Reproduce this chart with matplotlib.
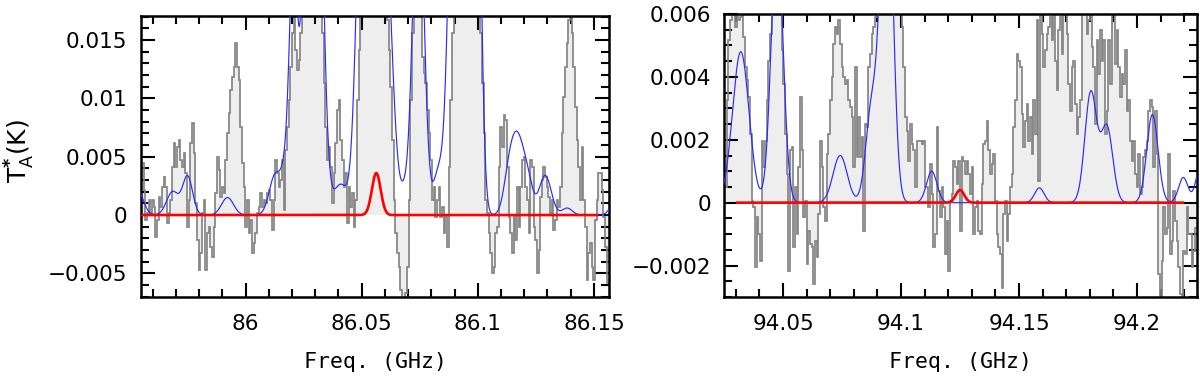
import numpy as np
import matplotlib
matplotlib.use("Agg")
import matplotlib.pyplot as plt
from matplotlib.ticker import MultipleLocator, FuncFormatter

# ---------------- data: left panel (86 GHz) ----------------
left_f0 = 85.9555      # GHz, first channel edge
left_df = 0.000717     # GHz, channel width
left_tmk = [  # observed T_A* in mK
    4.43, 2.14, -0.43, 0.14, 1.29, 0.14, 1.29, 0.71, -1.86, -0.43,
    1.57, 0.71, 2.43, 3.29, 2.43, -0.71, 0.14, 1.29, 4.15, 6.15,
    4.15, 5.86, 6.43, 4.72, 4.15, 5.29, 3.57, -1.00, 1.29, 6.15,
    7.86, 5.29, 1.00, -2.14, -4.72, -3.29, 0.14, 1.29, -4.72, -1.57,
    -1.00, -2.72, -3.57, -1.00, 1.86, 5.00, 3.86, 1.57, 2.43, 1.86,
    4.72, 7.00, 8.72, 10.72, 11.86, 12.72, 14.72, 12.72, 11.58, 7.58,
    4.43, 2.43, -1.00, 1.29, -1.57, -0.43, -3.29, -2.43, -1.57, 0.14,
    0.71, 1.86, 0.71, 1.29, 1.00, 1.86, 2.14, 1.29, -1.29, 1.29,
    4.72, 3.57, 2.43, 3.00, 4.72, 0.43, 5.57, 7.58, 9.86, 12.72,
    15.58, 20.0, 14.15, 12.44, 13.29, 15.58, 25, 25, 25, 25,
    25, 25, 25, 25, 25, 25, 25, 25, 15.58, 11.29,
    7.58, 4.72, 5.86, 4.15, 1.00, 3.57, 6.15, 9.01, 9.86, 6.43,
    4.72, 2.43, 3.57, -0.71, 2.43, 0.71, 1.86, -1.00, 1.29, 9.86,
    14.15,
    25, 25, 25, 25, 25, 25, 25, 25, 25, 25, 25, 25, 25, 25, 25, 25,
    16.72, 14.15, 11.01, 6.43, 1.29, -1.57, -3.29, -4.43, -6.43, -7.5,
    -7.8, -6.72, -4.43, 1.29, 9.86, 15.58, 20.0, 25, 25, 25,
    25, 13.58, 12.15, 11.29, 9.01, 7.00, 4.72, 1.29, 2.43, -0.14,
    1.29, 2.43, -0.14, 0.71, -1.57, -0.14, -2.72, 4.15, 9.86, 15.58,
    25, 25, 25, 25, 25, 25, 25, 25, 25, 25, 25, 25, 25, 25, 25, 25,
    15.58, 11.29, 7.00, 1.29, 0.14, -1.57, -3.29, -5.00, -4.43, -1.57,
    -1.00, 4.15, 7.58, 5.86, 8.58, 8.15, 4.15, -0.14, -1.57, -3.29,
    -0.14, -2.14, 2.43, -1.00, 2.43, 4.72, 5.00, 2.43, 1.29, -1.57,
    4.72, 4.15, -1.00, -2.14, -5.00, -3.00, 1.57, 3.00, 4.15, 3.29,
    2.43, 1.57, 0.14, 1.29, -1.29, -0.43, 1.29, 0.71, 2.43, 7.00,
    10.15, 12.72, 14.72, 16.72, 18.0, 15.58, 12.72, 9.29, 6.43, 4.15,
    1.29, 5.86, 1.29, -1.00, -5.57, -3.29, -2.43, -4.43, -5.57, -0.43,
    1.29, 3.57, 3.57, 2.14, -0.14, -2.72, -5.86, -5.86,
]
# model lines (blue): centre GHz, peak mK, width (sigma) GHz
left_model_f = [85.95312, 85.96860, 85.97505, 85.99226, 86.01290, 86.01720,
                86.02065, 86.02667, 86.03054, 86.04086, 86.05032, 86.05548,
                86.06022, 86.06839, 86.07441, 86.08301, 86.09032, 86.09505,
                86.09935, 86.11312, 86.11699, 86.12172, 86.12903, 86.13849,
                86.16129]
left_model_t = [2.4, 2.0, 3.3, 1.5, 3.5, 3.0,
                22.0, 30.0, 40.0, 2.6, 30.0, 40.0,
                22.0, 1.5, 30.0, 3.5, 40.0, 40.0,
                35.0, 2.0, 6.6, 2.0, 3.4, 0.6,
                3.0]
left_model_s = [0.00258, 0.00258, 0.00215, 0.00258, 0.00258, 0.00172,
                0.00172, 0.00215, 0.00258, 0.00301, 0.00258, 0.00258,
                0.00301, 0.00172, 0.00237, 0.00215, 0.00258, 0.00258,
                0.00194, 0.00215, 0.00301, 0.00215, 0.00258, 0.00215,
                0.00258]
# red line: centre GHz, peak mK, sigma GHz, drawn range
left_red = (86.0563, 3.6, 0.0019)
left_red_range = (85.9557, 86.1514)

# ---------------- data: right panel (94 GHz) ----------------
right_f0 = 94.02542
right_df = 0.000706
right_tmk = [
    0.49, 3.25, 5.16, 5.80, 8.0, 5.96, 5.58, 5.96, 5.80, 5.90,
    5.96, 5.27, 4.31, 3.89, 3.35, 2.19, 0.06, -0.15, -2.06, -0.47,
    -1.00, -1.85, 1.97, 1.13, 1.97, 3.25, 4.52, 5.37, 8.0, 10,
    10, 10, 10, 10, 4.84, 3.78, 2.19, 0.91, -2.17, 1.66,
    1.76, -1.42, 0.49, -1.00, 1.13, 3.35, 1.66, -0.47, 0.06, -1.95,
    -0.89, -1.32, -1.42, -2.59, -1.21, -1.74, -0.36, 1.97, 1.13, -0.15,
    -0.57, 1.55, 2.19, 3.25, 3.99, 5.05, 5.58, 5.37, 5.80, 5.05,
    4.31, 3.99, 3.78, 3.89, 3.25, 3.04, 2.72, 1.13, 4.31, 1.44,
    2.72, 1.44, 2.08, -0.89, 2.51, 2.40, 4.31, 4.73, 5.37, 5.58,
    5.90, 10, 10, 10, 10, 10, 10, 10, 10, 10,
    10, 10, 10, 10, 10, 10, 5.58, 4.31, 2.72, 2.29,
    1.34, 2.51, 1.87, 1.66, 0.49, 1.97, 1.97, 1.97, 1.87, 1.97,
    0.49, 0.49, -0.15, 1.23, 0.28, -1.42, -1.00, 2.40, 0.38, -0.47,
    0.49, -0.15, -1.63, -0.57, -2.17, 0.06, 0.28, 1.34, 1.13, 0.59,
    1.34, -0.89, 1.44, 1.34, 0.91, 1.34, 0.91,
    0.28, 1.13, -1.00, -0.15, 0.06, -0.89, -1.00, 0.59, 1.87, 1.97,
    2.61, 1.66, 0.91, 1.23, 1.55, 0.06, -1.00, -1.42, -1.63, -2.70,
    -0.36, 0.06, -1.21, -0.36, 0.49, 0.91, 2.40, 3.25, 4.73, 4.52,
    4.31, 2.82, 1.76, 2.61, 3.14, 1.97, 2.72, 1.55, 3.25, 2.19,
    5.80, 0.70, 6.5, 5.37, 4.31, 4.84, 5.37, 5.58, 5.90, 5.16,
    7.0, 4.52, 3.57, 5.48, 5.90, 4.73, 7.0, 7.0, 5.37, 3.78,
    2.93, 4.31, 4.52, 3.14, 2.19, 2.72, 3.25, 7.0, 7.0, 7.0,
    5.37, 5.80, 7.0, 4.95, 4.31, 2.51, 5.16, 4.10, 5.48, 4.52,
    5.16, 2.19, 2.93, 5.16, 3.78, 7.0, 7.0, 4.42, 5.48, 4.31,
    3.35, 4.10, 3.78, 4.84, 2.93, 3.25, 1.97, 1.34, 1.97, 0.91,
    0.49, 1.55, 0.28, 0.49, 1.44, 1.66, 1.97, 2.93, 3.25, 3.04,
    1.13, 2.93, 1.55, -2.27, -3.3, -1.85, -0.15, -1.00, -0.79, 1.55,
    -1.63, -1.21, 0.38, -0.57, -1.21, -2.06, -2.91, -3.2, -1.53, -1.63,
    -0.15, -1.00, -1.00, -2.06, -1.53, -0.79, -0.79,
]
right_model_f = [94.0321, 94.0475, 94.0742, 94.0876, 94.0939, 94.1130,
                 94.1586, 94.1804, 94.1872, 94.2065, 94.2196, 94.2270]
right_model_t = [4.8, 8.5, 1.5, 3.0, 12.0, 1.0,
                 0.47, 3.5, 2.4, 2.8, 0.8, 1.2]
right_model_s = [0.0035, 0.0025, 0.0030, 0.0025, 0.0025, 0.0022,
                 0.0020, 0.0025, 0.0025, 0.0024, 0.0020, 0.0020]
right_red = (94.1250, 0.4, 0.0018)
right_red_range = (94.0306, 94.2194)

# ---------------- plotting ----------------
def gauss_sum(f, cs, ts, ss):
    out = np.zeros_like(f)
    for c, t, s in zip(cs, ts, ss):
        out += t * np.exp(-0.5 * ((f - c) / s) ** 2)
    return out / 1000.0

def fmt(v, pos):
    s = "%g" % round(v, 6)
    if s == "-0":
        s = "0"
    return s.replace("-", "\u2212")

fig = plt.figure(figsize=(12, 3.89), dpi=100)
axL = fig.add_axes([141/1200, 92/389, 468/1200, 281/389])
axR = fig.add_axes([724/1200, 92/389, 473/1200, 283/389])

panels = [
    (axL, left_f0, left_df, left_tmk, left_model_f, left_model_t, left_model_s,
     left_red, left_red_range,
     (85.955, 86.1565), (-0.00703, 0.01707), 0.05, 0.01, 0.005, 0.001, 10),
    (axR, right_f0, right_df, right_tmk, right_model_f, right_model_t, right_model_s,
     right_red, right_red_range,
     (94.025, 94.2254), (-0.003, 0.006), 0.05, 0.01, 0.002, 0.0005, 9),
]

for (ax, f0, df, tmk, mf, mt, ms, red, rrange, xl, yl,
     xmaj, xmin, ymaj, ymin, ypad) in panels:
    vals = np.array(tmk) / 1000.0
    edges = f0 + df * np.arange(len(vals) + 1)
    ax.stairs(vals, edges, baseline=0, fill=True, color="#eeeeee", lw=0, zorder=1)
    ax.stairs(vals, edges, baseline=None, color="#858585", lw=1.25, zorder=2)
    fx = np.linspace(xl[0], xl[1], 3000)
    ax.plot(fx, gauss_sum(fx, mf, mt, ms), color="#2a2aff", lw=0.85, zorder=3)
    rx = np.linspace(rrange[0], rrange[1], 2000)
    ax.plot(rx, gauss_sum(rx, [red[0]], [red[1]], [red[2]]), color="#ff0000",
            lw=1.9, zorder=4)
    ax.set_xlim(*xl)
    ax.set_ylim(*yl)
    ax.xaxis.set_major_locator(MultipleLocator(xmaj))
    ax.xaxis.set_minor_locator(MultipleLocator(xmin))
    ax.yaxis.set_major_locator(MultipleLocator(ymaj))
    ax.yaxis.set_minor_locator(MultipleLocator(ymin))
    ax.xaxis.set_major_formatter(FuncFormatter(fmt))
    ax.yaxis.set_major_formatter(FuncFormatter(fmt))
    ax.tick_params(which="both", direction="in", top=True, right=True, width=1.5,
                   labelsize=15.5, labelfontfamily="DejaVu Sans")
    ax.tick_params(which="major", length=10)
    ax.tick_params(which="minor", length=5.5)
    ax.tick_params(axis="x", pad=12)
    ax.tick_params(axis="y", pad=ypad)
    for sp in ax.spines.values():
        sp.set_linewidth(1.8)
    ax.set_xlabel("Freq. (GHz)", family="DejaVu Sans Mono", fontsize=15.5, labelpad=13)

axL.set_ylabel(r"T$_\mathrm{A}^{\mathbf{*}}$(K)", family="DejaVu Sans", fontsize=18)
axL.yaxis.set_label_coords(-0.222, 0.52)

fig.savefig("out.png", dpi=100)
